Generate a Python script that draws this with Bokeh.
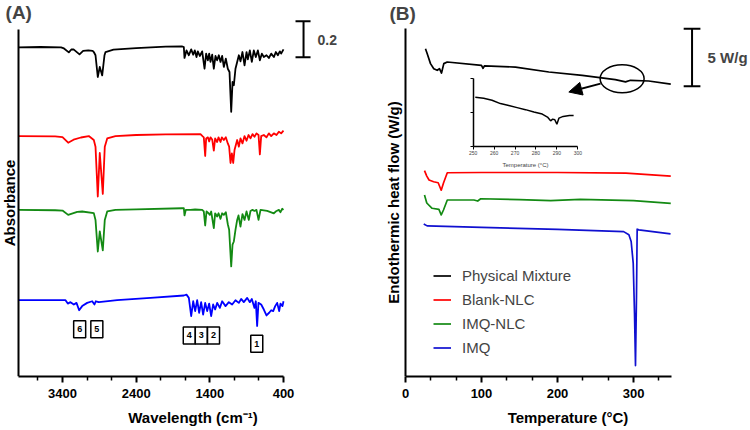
from bokeh.plotting import figure
from bokeh.models import (Range1d, FixedTicker, LinearAxis, Label, Arrow, NormalHead,
                          Legend, LegendItem)
from bokeh.layouts import row
from bokeh.embed import file_html
from bokeh.resources import INLINE
from bokeh.core.properties import value

FONT = "Liberation Sans"

# ---------------- (A) FTIR data (wavenumber, relative absorbance) ----------------
pm_wn = [4000, 3700, 3420, 3380, 3314, 3280, 3250, 3169, 3120, 3050, 2990, 2975, 2952, 2921,
         2894, 2861, 2830, 2816, 2708, 2400, 2000, 1780, 1753, 1744, 1717, 1685, 1653, 1626,
         1604, 1581, 1563, 1536, 1504, 1472, 1450, 1427, 1409, 1391, 1368, 1346, 1323, 1301,
         1278, 1255, 1233, 1210, 1183, 1156, 1133, 1110, 1092, 1074, 1052, 1029, 1006, 984,
         957, 929, 902, 884, 857, 830, 803, 776, 748, 721, 694, 667, 631, 599, 567, 531, 504,
         477, 450, 432, 400]
pm_abs = [0.0, 0.002, 0.0, -0.006, -0.028, -0.012, -0.011, -0.039, -0.02, -0.017, -0.02,
          -0.026, -0.044, -0.165, -0.109, -0.156, -0.044, -0.026, -0.013, -0.004, 0.004, 0.006,
          0.002, -0.059, -0.017, -0.044, -0.011, -0.041, -0.017, -0.054, -0.022, -0.048, -0.022,
          -0.119, -0.035, -0.072, -0.035, -0.081, -0.041, -0.119, -0.048, -0.072, -0.044,
          -0.081, -0.048, -0.109, -0.063, -0.119, -0.137, -0.359, -0.193, -0.211, -0.119,
          -0.081, -0.044, -0.078, -0.026, -0.1, -0.026, -0.067, -0.017, -0.081, -0.017, -0.054,
          -0.017, -0.072, -0.035, -0.054, -0.044, -0.059, -0.035, -0.054, -0.026, -0.044,
          -0.022, -0.035, -0.011]

blank_wn = [4000, 3500, 3400, 3323, 3250, 3150, 3043, 2975, 2952, 2921, 2894, 2853, 2826, 2793,
            2681, 2400, 2000, 1527, 1500, 1482, 1463, 1450, 1427, 1409, 1391, 1368, 1346, 1328,
            1301, 1282, 1255, 1237, 1210, 1183, 1156, 1138, 1119, 1101, 1083, 1065, 1047, 1029,
            1006, 984, 957, 929, 902, 875, 848, 821, 794, 767, 739, 721, 703, 667, 631, 599,
            567, 531, 495, 463, 432, 400]
blank_abs = [0.0, -0.002, -0.006, -0.037, -0.02, -0.008, 0.0, -0.022, -0.059, -0.337, -0.094,
             -0.322, -0.059, -0.013, 0.0, 0.006, 0.009, 0.011, 0.0, -0.007, -0.111, -0.013,
             -0.007, -0.03, -0.007, -0.019, -0.081, -0.013, -0.033, -0.007, -0.033, -0.007,
             -0.022, -0.007, -0.041, -0.059, -0.15, -0.096, -0.15, -0.078, -0.05, -0.022,
             -0.059, -0.013, -0.041, 0.0, -0.026, 0.006, -0.013, 0.011, -0.004, 0.015, 0.006,
             -0.102, 0.0, 0.006, -0.007, 0.015, 0.0, 0.015, 0.006, 0.024, 0.015, 0.03]

imqnlc_wn = [4000, 3500, 3400, 3323, 3200, 3133, 2975, 2952, 2921, 2894, 2853, 2826, 2793, 2681,
             2400, 1780, 1753, 1744, 1726, 1663, 1600, 1504, 1482, 1463, 1445, 1418, 1400, 1382,
             1346, 1328, 1301, 1282, 1255, 1233, 1210, 1183, 1156, 1138, 1110, 1092, 1074, 1052,
             1029, 1011, 984, 957, 929, 902, 871, 848, 821, 794, 767, 739, 712, 622, 531, 495,
             463, 441, 418, 400]
imqnlc_abs = [0.0, -0.002, -0.004, -0.028, -0.011, -0.009, -0.018, -0.056, -0.232, -0.12,
              -0.226, -0.056, -0.009, 0.0, 0.003, 0.009, 0.009, -0.031, 0.0, 0.0, 0.002, 0.0,
              -0.009, -0.087, -0.009, -0.019, -0.028, -0.009, -0.102, -0.019, -0.037, -0.019,
              -0.05, -0.019, -0.028, -0.013, -0.08, -0.111, -0.315, -0.194, -0.176, -0.111,
              -0.056, -0.031, -0.093, -0.024, -0.056, -0.009, -0.056, -0.006, 0.0, -0.006, 0.0,
              -0.056, 0.0, -0.006, -0.019, -0.006, 0.0, -0.013, 0.006, 0.0]

imq_wn = [4000, 3700, 3400, 3359, 3328, 3292, 3246, 3210, 3174, 3133, 3065, 2997, 2966, 2948,
          2907, 2658, 2206, 1753, 1717, 1685, 1653, 1626, 1599, 1572, 1545, 1518, 1491, 1463,
          1436, 1409, 1382, 1355, 1328, 1300, 1264, 1233, 1187, 1142, 1097, 1052, 1006, 975,
          939, 893, 857, 830, 794, 776, 758, 740, 703, 667, 631, 595, 567, 540, 513, 486, 459,
          441, 414, 400]
imq_abs = [0.0, 0.0, 0.0, 0.0, -0.019, -0.011, -0.024, -0.015, -0.056, -0.033, -0.015, -0.006,
           -0.024, -0.006, -0.011, 0.0, 0.013, 0.026, 0.031, 0.013, -0.089, -0.006, -0.061, 0.0,
           -0.07, -0.011, -0.08, -0.015, -0.061, -0.019, -0.089, -0.024, -0.052, -0.015, -0.043,
           -0.006, -0.033, -0.011, -0.024, 0.0, -0.015, 0.007, -0.011, 0.013, -0.011, 0.007,
           -0.043, -0.006, -0.144, -0.015, -0.024, -0.052, -0.085, -0.07, -0.056, -0.061,
           -0.033, -0.015, -0.061, -0.019, -0.033, -0.006]

ftir_offsets = [1.833, 1.339, 0.928, 0.425]
ftir_colors = ["#000000", "#ff0000", "#138a13", "#0000ff"]

peak_labels = ["6", "5", "4", "3", "2", "1"]
peak_wn = [3167, 2934, 1679, 1516, 1350, 763]
peak_y = [0.263, 0.263, 0.229, 0.229, 0.229, 0.183]

wn_ticks = [400, 1400, 2400, 3400]
wn_minor = [733.3, 1066.7, 1733.3, 2066.7, 2733.3, 3066.7, 3733.3]

# ---------------- (B) DSC data (temperature, heat flow W/g) ----------------
pm_T = [26.3, 28.6, 32.9, 37.2, 41.7, 44.7, 47.4, 50.4, 54.9, 100, 102, 104, 144.7, 188.6,
        232.5, 276, 289.5, 296, 320, 349]
pm_hf = [28.51, 28.07, 27.21, 26.77, 26.63, 26.77, 26.39, 27.21, 27.35, 27.06, 26.8, 27.02,
         26.91, 26.48, 26.19, 25.82, 25.62, 25.76, 25.7, 25.42]
blank_T = [25, 28, 31, 37, 43, 47, 50, 55, 100, 200, 290, 349]
blank_hf = [17.9, 17.43, 17.09, 16.94, 16.85, 16.2, 16.83, 17.72, 17.74, 17.74, 17.69, 17.43]
imqnlc_T = [25, 28, 35, 44, 47, 50, 55, 90, 95, 99, 150, 191, 230, 300, 349]
imqnlc_hf = [15.78, 15.09, 14.63, 14.54, 14.05, 14.48, 15.35, 15.35, 15.26, 15.46, 15.39,
             15.29, 15.41, 15.29, 15.06]
imq_T = [24, 28.5, 100, 200, 287, 293.9, 296.9, 299.6, 301.3, 302.6, 303.9, 304.8, 307, 348.7]
imq_hf = [13.27, 13.1, 12.97, 12.79, 12.6, 12.32, 11.74, 9.86, 5.52, 0.95, 6.96, 12.81, 12.75,
          12.4]

dsc_names = ["Physical Mixture", "Blank-NLC", "IMQ-NLC", "IMQ"]
dsc_colors = ["#000000", "#ff0000", "#138a13", "#1010d0"]

inset_T = [251, 255, 259, 263, 267, 271, 275, 279, 283, 285.5, 287, 288, 289, 290, 291, 293,
           296, 298]
inset_hf = [1.45, 1.42, 1.36, 1.26, 1.2, 1.14, 1.08, 1.01, 0.95, 0.86, 0.75, 0.8, 0.78, 0.65,
            0.83, 0.88, 0.91, 0.91]
inset_ticks = [250, 260, 270, 280, 290, 300]

T_ticks = [0, 100, 200, 300]
T_minor = [33.3, 66.7, 133.3, 166.7, 233.3, 266.7, 333.3]

H = 428


def style_axis(ax):
    ax.axis_line_width = 2
    ax.major_tick_line_width = 2
    ax.minor_tick_line_width = 1.5
    ax.major_tick_in = 0
    ax.major_tick_out = 6
    ax.minor_tick_in = 0
    ax.minor_tick_out = 4
    ax.major_label_text_font = FONT
    ax.major_label_text_font_style = "bold"
    ax.major_label_text_font_size = "13px"
    ax.major_label_text_color = "black"
    ax.major_label_standoff = 6
    ax.axis_label_text_font = FONT
    ax.axis_label_text_font_style = "bold"
    ax.axis_label_text_font_size = "15px"
    ax.axis_label_text_color = "black"


# ================= Panel A =================
p1 = figure(width=385, height=H, x_range=Range1d(4241.6, -984.5), y_range=Range1d(0, 2.094),
            output_backend="svg", toolbar_location=None, min_border=0)
p1.outline_line_color = None
p1.xgrid.visible = False
p1.ygrid.visible = False

xa = p1.xaxis[0]
style_axis(xa)
xa.ticker = FixedTicker(ticks=wn_ticks, minor_ticks=wn_minor)
xa.bounds = (400, 4000)
xa.axis_label = "Wavelength (cm⁻¹)"
xa.axis_label_standoff = 8

ya = p1.yaxis[0]
style_axis(ya)
ya.ticker = FixedTicker(ticks=[])
ya.fixed_location = 4000
ya.bounds = (0, 1.933)
ya.axis_label = "Absorbance"
ya.axis_label_standoff = 1

for wn, ab, off, col in zip([pm_wn, blank_wn, imqnlc_wn, imq_wn],
                            [pm_abs, blank_abs, imqnlc_abs, imq_abs],
                            ftir_offsets, ftir_colors):
    p1.line(wn, [a + off for a in ab], line_color=col, line_width=1.8, line_join="round")

p1.rect(x=peak_wn, y=peak_y, width=12, height=17, width_units="screen", height_units="screen",
        fill_color="white", line_color="black", line_width=1.5)
p1.text(x=peak_wn, y=peak_y, text=peak_labels, text_font=value(FONT), text_font_style="bold",
        text_font_size="9px", text_align="center", text_baseline="middle", text_color="black")

# scale bar 0.2
p1.segment(x0=[128, 237, 237], y0=[1.778, 1.778, 1.978], x1=[128, 33, 33], y1=[1.978, 1.778, 1.978],
           line_color="black", line_width=2)
p1.add_layout(Label(x=-61, y=1.872, text="0.2", text_font=FONT, text_font_style="bold",
                    text_font_size="14px", text_baseline="middle", text_align="left"))
p1.add_layout(Label(x=4173, y=2.028, text="(A)", text_font=FONT, text_font_style="bold",
                    text_font_size="19px", text_baseline="middle", text_align="left"))

# ================= Panel B =================
p2 = figure(width=365, height=H, x_range=Range1d(-26.3, 453.9), y_range=Range1d(0, 32.7),
            output_backend="svg", toolbar_location=None, min_border=0)
p2.outline_line_color = None
p2.xgrid.visible = False
p2.ygrid.visible = False

xb = p2.xaxis[0]
style_axis(xb)
xb.ticker = FixedTicker(ticks=T_ticks, minor_ticks=T_minor)
xb.bounds = (0, 350)
xb.axis_label = "Temperature (°C)"
xb.axis_label_standoff = 8

yb = p2.yaxis[0]
style_axis(yb)
yb.ticker = FixedTicker(ticks=[])
yb.fixed_location = 0
yb.bounds = (0, 30.27)
yb.axis_label = "Endothermic heat flow (W/g)"
yb.axis_label_standoff = 4

items = []
for T, hf, name, col in zip([pm_T, blank_T, imqnlc_T, imq_T], [pm_hf, blank_hf, imqnlc_hf, imq_hf],
                            dsc_names, dsc_colors):
    r = p2.line(T, hf, line_color=col, line_width=1.7, line_join="round")
    items.append(LegendItem(label=name, renderers=[r]))

legend = Legend(items=items, location=(48, 18), border_line_color=None, background_fill_alpha=0,
                padding=0, margin=0, spacing=3, glyph_width=18, glyph_height=21, label_height=21,
                label_standoff=11, label_text_font=FONT, label_text_font_size="15px")
p2.add_layout(legend)

# inset
p2.extra_x_ranges = {"ix": Range1d(208.08, 382.55)}
p2.extra_y_ranges = {"iy": Range1d(-6.824, 4.313)}
p2.line(inset_T, inset_hf, x_range_name="ix", y_range_name="iy", line_color="black",
        line_width=1.5)
iax = LinearAxis(x_range_name="ix", y_range_name="iy", fixed_location=0, bounds=(250, 300),
                 ticker=FixedTicker(ticks=inset_ticks), axis_label="Temperature (°C)")
iax.axis_line_width = 1.5
iax.major_tick_line_width = 1
iax.major_tick_in = 0
iax.major_tick_out = 3
iax.minor_tick_line_color = None
iax.major_label_text_font = FONT
iax.major_label_text_font_size = "5px"
iax.major_label_standoff = 2
iax.axis_label_text_font = FONT
iax.axis_label_text_font_size = "6px"
iax.axis_label_text_font_style = "normal"
iax.axis_label_standoff = 3
p2.add_layout(iax, "below")
iay = LinearAxis(x_range_name="ix", y_range_name="iy", fixed_location=250, bounds=(0, 2),
                 ticker=FixedTicker(ticks=[0, 1, 2]))
iay.axis_line_width = 1.5
iay.major_tick_line_width = 1
iay.major_tick_in = 0
iay.major_tick_out = 3
iay.minor_tick_line_color = None
iay.major_label_text_font_size = "0px"
iay.major_label_text_color = None
p2.add_layout(iay, "left")

# ellipse + arrow
p2.ellipse(x=[285], y=[25.9], width=[57.9], height=[2.43], fill_color=None, line_color="black",
           line_width=1.5)
p2.add_layout(Arrow(end=NormalHead(size=13, fill_color="black", line_color="black"),
                    x_start=256.6, y_start=25.47, x_end=214.9, y_end=24.74,
                    line_width=2, line_color="black"))

# scale bar 5 W/g
p2.segment(x0=[377, 366, 366], y0=[25.24, 25.24, 30.24], x1=[377, 388, 388], y1=[30.24, 25.24, 30.24],
           line_color="black", line_width=2)
p2.add_layout(Label(x=397.4, y=27.74, text="5 W/g", text_font=FONT, text_font_style="bold",
                    text_font_size="15px", text_baseline="middle", text_align="left"))
p2.add_layout(Label(x=-21, y=31.57, text="(B)", text_font=FONT, text_font_style="bold",
                    text_font_size="19px", text_baseline="middle", text_align="left"))

layout = row(p1, p2)
open("out.html", "w").write(file_html(layout, INLINE))
